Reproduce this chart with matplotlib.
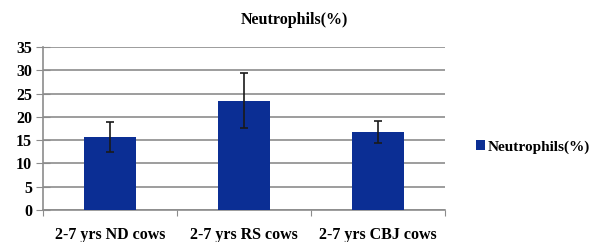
import matplotlib
matplotlib.use("Agg")
import matplotlib.pyplot as plt
import numpy as np

categories = ["2-7 yrs ND cows", "2-7 yrs RS cows", "2-7 yrs CBJ cows"]
values = [15.7, 23.5, 16.7]
errors = [3.2, 5.9, 2.4]
series_name = "Neutrophils(%)"
yticks = [0, 5, 10, 15, 20, 25, 30, 35]

plt.rcParams['font.family'] = ['Liberation Serif', 'DejaVu Serif']
fig = plt.figure(figsize=(5.89, 2.42), dpi=100)
ax = fig.add_axes([43/589, 1-210/242, (445-43)/589, (210-47)/242])

x = np.arange(len(categories))
bars = ax.bar(x, values, width=0.39, color="#0b2e94", label=series_name, zorder=3)
ax.errorbar(x, values, yerr=errors, fmt='none', ecolor='#1a1a1a', elinewidth=1.2,
            capsize=2.8, capthick=1.2, zorder=4)

ax.set_xlim(-0.5, 2.5)
ax.set_ylim(0, 35)
ax.set_yticks(yticks)
ax.set_yticklabels([str(t) for t in yticks], fontsize=11.5, fontweight='bold')
ax.yaxis.grid(True, color='#8c8c8c', linewidth=1.2, zorder=0)
ax.set_axisbelow(True)

ax.set_xticks([-0.5, 0.5, 1.5, 2.5])
ax.set_xticklabels([])
ax.set_xticks(x, minor=True)
ax.set_xticklabels(categories, minor=True, fontsize=11.5, fontweight='bold')
ax.tick_params(axis='x', which='minor', length=0, pad=12)
ax.tick_params(axis='x', which='major', length=4, color='#8c8c8c', direction='out')
ax.tick_params(axis='y', length=10, color='#8c8c8c', direction='inout', pad=3)

for s in ['top', 'right']:
    ax.spines[s].set_visible(False)
for s in ['left', 'bottom']:
    ax.spines[s].set_color('#8c8c8c')
    ax.spines[s].set_linewidth(1.2)

fig.text(294/589, 1-20/242, series_name, ha='center', va='center',
         fontsize=11.5, fontweight='bold')

leg = fig.legend(handles=[bars], labels=[series_name], loc='center left',
                 bbox_to_anchor=(462/589, 1-147/242), frameon=False,
                 handlelength=0.6, handleheight=0.6, handletextpad=0.2,
                 prop={'weight': 'bold', 'size': 11})

fig.savefig("out.png", dpi=100)
